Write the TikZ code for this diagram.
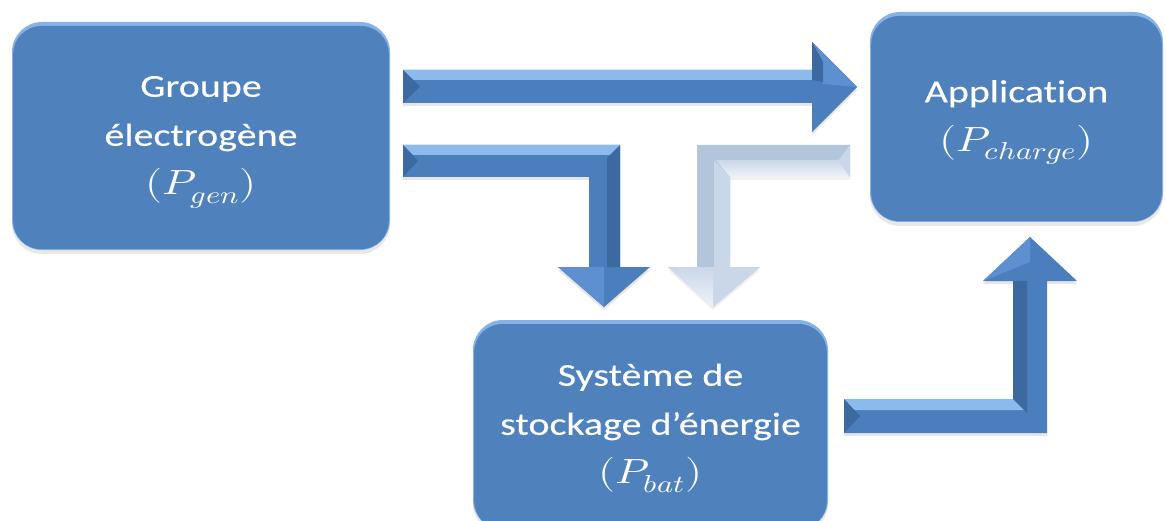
\documentclass[tikz,border=0pt]{standalone}
\usepackage{fontspec}
\usepackage{unicode-math}
\usepackage{graphicx}
\setmainfont{Carlito}[Ligatures={NoCommon}, FakeBold=0.15]
\setmathfont{Latin Modern Math}
\usetikzlibrary{shadows,calc}
\definecolor{bx}{HTML}{4F81BD}
\definecolor{bxrim}{HTML}{86B2E8}
\definecolor{am}{HTML}{4A7EBC}
\definecolor{al}{HTML}{8CB9EE}
\definecolor{ad}{HTML}{3C699F}
\definecolor{ah}{HTML}{5C90D0}
\definecolor{lm}{HTML}{B3C5DB}
\definecolor{ll}{HTML}{EEF3FA}
\definecolor{lh}{HTML}{CAD7E8}
\tikzset{
  boxnode/.style={rounded corners=30pt, fill=bxrim, text=white, inner sep=0pt,
    font=\fontsize{32}{49}\selectfont,
    drop shadow={opacity=0.18, shadow xshift=0pt, shadow yshift=-4pt},
    path picture={\fill[bx, rounded corners=28pt]
      ($(path picture bounding box.south west)+(1.2pt,0.8pt)$) rectangle
      ($(path picture bounding box.north east)+(-1.2pt,-4pt)$);}},
  arrowbody/.style={fill=am, drop shadow={opacity=0.2, shadow xshift=0pt, shadow yshift=-3pt}},
  lightbody/.style={fill=lm, drop shadow={opacity=0.12, shadow xshift=0pt, shadow yshift=-3pt}},
}
\newcommand{\boxtext}[1]{\scalebox{1.25}[1]{\begin{tabular}{@{}c@{}}#1\end{tabular}}}
\newcommand{\mline}[1]{{\fontsize{35}{49}\selectfont$#1$}}
\begin{document}
\begin{tikzpicture}[x=1pt,y=-1pt]
\useasboundingbox (0,0) rectangle (1166,521);
\clip (0,0) rectangle (1166,521);
% boxes
\node[boxnode, minimum width=378pt, minimum height=228pt] (gen) at (201,136)
  {\boxtext{Groupe\\électrogène\\\mline{(P_{gen})}}};
\node[boxnode, minimum width=293pt, minimum height=210pt] (app) at (1016.5,117)
  {\boxtext{Application\\\mline{(P_{charge})}}};
\node[boxnode, minimum width=355pt, minimum height=210pt] (bat) at (650.5,425)
  {\boxtext{Système de\\stockage d’énergie\\\mline{(P_{bat})}}};

% arrow A : gen -> app
\coordinate (As) at (403,86.5);
\coordinate (Ae) at (857,87);
\path[arrowbody] (403,70) -- (812,70) -- (812,42) -- (Ae) -- (812,132) -- (812,103) -- (403,103) -- cycle;
\fill[al] (403,70) -- (812,70) -- (812,80) -- (413,80) -- cycle;
\fill[ah] (812,42) -- (Ae) -- (823,84) -- cycle;
\fill[ad] (812,42) -- (823,62) -- (823,82) -- (812,80) -- cycle;
\fill[ad] (As) ++(0,-16.5) -- (420,86.5) -- (403,103) -- cycle;

% arrow B : gen -> bat
\coordinate (Bs) at (403,161);
\coordinate (Be) at (604,307);
\path[arrowbody] (403,145) -- (620,145) -- (620,267) -- (650,267) -- (Be) -- (558,267) -- (589,267) -- (589,177) -- (403,177) -- cycle;
\fill[al] (403,145) -- (620,145) -- (610,155) -- (413,155) -- cycle;
\fill[ad] (620,145) -- (620,267) -- (607,267) -- (607,158) -- cycle;
\fill[ah] (558,267) -- (604,267) -- (Be) -- cycle;
\fill[ad] (403,145) -- (418,161) -- (403,177) -- cycle;

% arrow C : app -> bat (light)
\coordinate (Cs) at (850,161);
\coordinate (Ce) at (713,307);
\path[lightbody] (850,145) -- (697,145) -- (697,267) -- (668,267) -- (Ce) -- (760,267) -- (730,267) -- (730,177) -- (850,177) -- cycle;
\shade[top color=lh, bottom color=ll] (716,160) -- (840,160) -- (850,177) -- (730,177) -- cycle;
\fill[lh] (714,160) -- (730,177) -- (730,267) -- (714,267) -- cycle;
\fill[lh] (850,145) -- (838,161) -- (850,177) -- cycle;
\fill[lh] (713,267) -- (760,267) -- (Ce) -- cycle;
\shade[top color=lh, bottom color=ll] (668,267) -- (713,267) -- (Ce) -- cycle;

% arrow D : bat -> app
\coordinate (Ds) at (844,416);
\coordinate (De) at (1030,237);
\path[arrowbody] (844,399) -- (1013,399) -- (1013,281) -- (983,281) -- (De) -- (1077,281) -- (1047,281) -- (1047,433) -- (844,433) -- cycle;
\fill[al] (844,399) -- (1013,399) -- (1024,410) -- (854,410) -- cycle;
\fill[ad] (1013,281) -- (1027,281) -- (1027,413) -- (1013,399) -- cycle;
\fill[ad] (844,399) -- (860,416) -- (844,433) -- cycle;
\fill[ah] (983,281) -- (De) -- (1030,262) -- cycle;
\end{tikzpicture}
\end{document}
